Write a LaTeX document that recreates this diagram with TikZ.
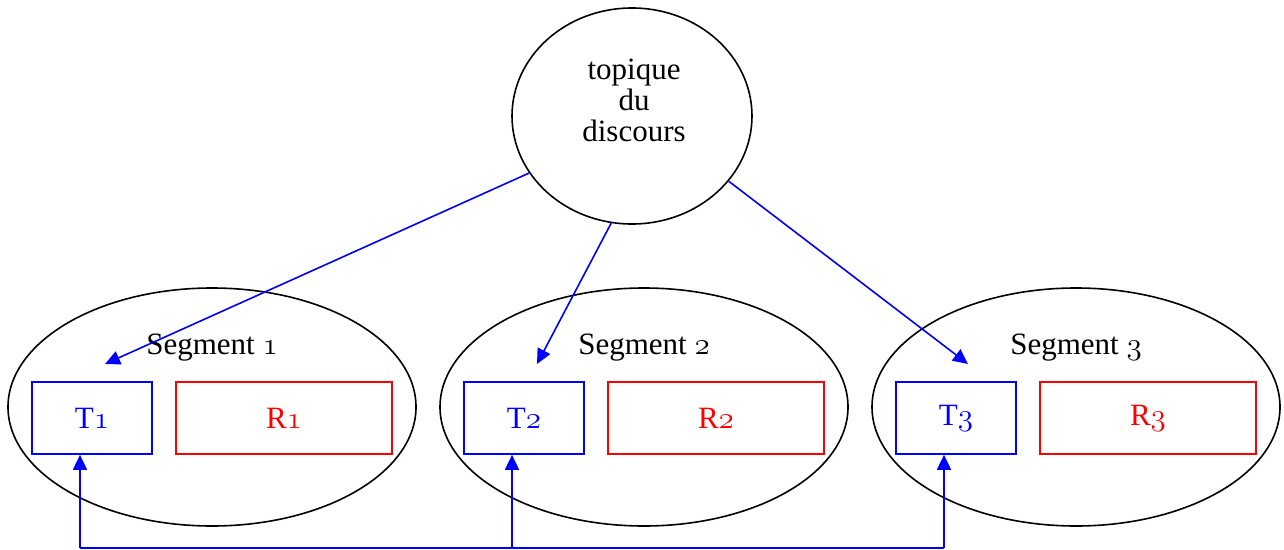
\documentclass[tikz,border=0pt]{standalone}
\usepackage{fontspec}
\usepackage{graphicx}
\setmainfont{Liberation Serif}
\usetikzlibrary{shapes.geometric,arrows.meta}
\newcommand{\osn}[1]{{\scalebox{1.25}{\fontsize{24.88}{26}\usefont{OML}{cmm}{m}{it}#1}}}
\begin{document}
\begin{tikzpicture}[x=1pt,y=-1pt,
  every node/.style={font=\fontsize{31}{34}\selectfont},
  ell/.style={draw=black,line width=1.6pt,ellipse,inner sep=0pt},
  tbox/.style={draw=blue,text=blue,line width=1.6pt,minimum width=120pt,minimum height=72pt,inner sep=0pt},
  rbox/.style={draw=red,text=red,line width=1.6pt,minimum width=216pt,minimum height=72pt,inner sep=0pt},
  arr/.style={draw=blue,line width=1.6pt,-{Triangle[length=15pt,width=14pt]}},
  link/.style={draw=blue,line width=1.6pt}]
\useasboundingbox (0,0) rectangle (1284,549);
\node[ell,minimum width=240pt,minimum height=216pt] (top) at (632,116) {};
\node[align=center] (toptext) at (634,100) {topique\\[-3pt]du\\[-3pt]discours};
\node[ell,minimum width=408pt,minimum height=238pt] (s1) at (212,407) {};
\node[ell,minimum width=408pt,minimum height=238pt] (s2) at (644,407) {};
\node[ell,minimum width=408pt,minimum height=238pt] (s3) at (1076,407) {};
\node (l1) at (212,348) {Segment \osn{1}};
\node (l2) at (644,348) {Segment \osn{2}};
\node (l3) at (1076,348) {Segment \osn{3}};
\node[tbox] (T1) at (92,418) {T\osn{1}};
\node[rbox] (R1) at (284,418) {R\osn{1}};
\node[tbox] (T2) at (524,418) {T\osn{2}};
\node[rbox] (R2) at (716,418) {R\osn{2}};
\node[tbox] (T3) at (956,418) {T\osn{3}};
\node[rbox] (R3) at (1148,418) {R\osn{3}};
\coordinate (e1) at (105,364);
\coordinate (e2) at (537,364);
\coordinate (e3) at (968,364);
\draw[arr] (top.-151) -- (e1);
\draw[arr] (top.-101) -- (e2);
\draw[arr] (top.-34) -- (e3);
\coordinate (b1) at (80,548);
\coordinate (b2) at (512,548);
\coordinate (b3) at (944,548);
\draw[link] (b1) -- (b3);
\draw[arr] (b1) -- (b1 |- T1.south);
\draw[arr] (b2) -- (b2 |- T2.south);
\draw[arr] (b3) -- (b3 |- T3.south);
\end{tikzpicture}
\end{document}
